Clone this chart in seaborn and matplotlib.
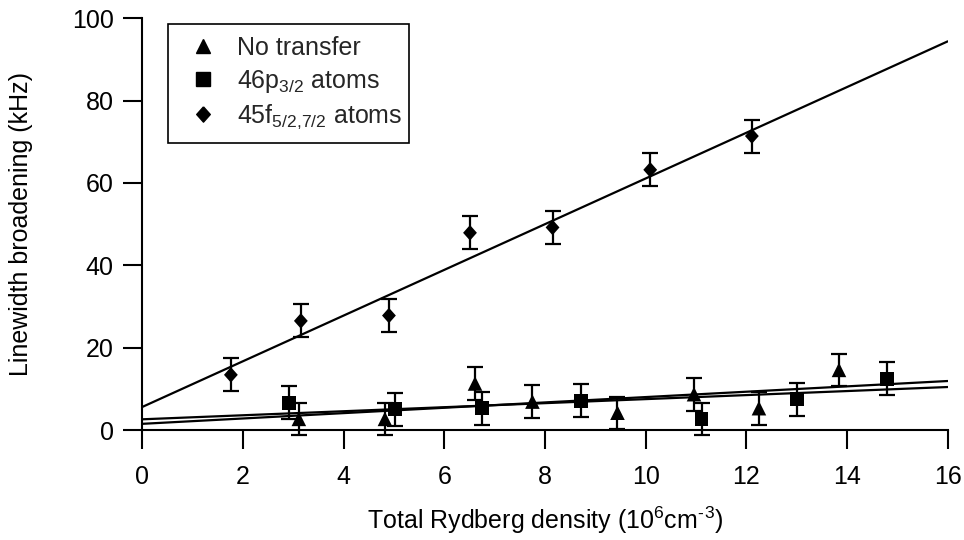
import numpy as np
import pandas as pd
import matplotlib
matplotlib.use("Agg")
import matplotlib.pyplot as plt
from matplotlib.lines import Line2D
from matplotlib.patches import Rectangle
import seaborn as sns

# ---- data ----
tri_x = [3.11, 4.82, 6.61, 7.75, 9.44, 10.96, 12.25, 13.84]
tri_y = [2.7, 2.7, 11.3, 6.9, 4.2, 8.7, 5.3, 14.6]
tri_err = [3.9, 3.9, 4.0, 4.0, 3.9, 4.0, 4.0, 3.9]

sq_x = [2.91, 5.02, 6.75, 8.71, 11.11, 13.01, 14.79]
sq_y = [6.6, 5.0, 5.3, 7.1, 2.6, 7.5, 12.4]
sq_err = [4.0, 4.0, 4.0, 4.0, 3.9, 4.0, 4.0]

dia_x = [1.76, 3.15, 4.90, 6.51, 8.15, 10.09, 12.11]
dia_y = [13.4, 26.5, 27.8, 47.9, 49.2, 63.2, 71.4]
dia_err = [4.0, 4.0, 4.0, 4.0, 4.0, 4.0, 4.0]

# linear fits (intercept, slope)
fit_tri = (1.5, 0.65)
fit_sq = (2.6, 0.49)
fit_dia = (5.6, 5.55)
fit_range = [0, 16]

labels = ["No transfer", "46p$_{3/2}$ atoms", "45f$_{5/2{,}7/2}$ atoms"]
x_ticks = [0, 2, 4, 6, 8, 10, 12, 14, 16]
y_ticks = [0, 20, 40, 60, 80, 100]

# ---- style ----
sns.set_theme(style="ticks")
plt.rcParams["font.family"] = ["Liberation Sans", "DejaVu Sans"]
plt.rcParams["mathtext.fontset"] = "custom"
plt.rcParams["mathtext.rm"] = "Liberation Sans"
plt.rcParams["mathtext.it"] = "Liberation Sans"
plt.rcParams["mathtext.default"] = "regular"

FS = 18
fig = plt.figure(figsize=(9.64, 5.4), dpi=100)
ax = fig.add_axes([0.1476, 0.2037, 0.8355, 0.7624])

diamond = [(0, 1), (0.89, 0), (0, -1), (-0.89, 0), (0, 1)]
series = [
    (tri_x, tri_y, tri_err, "^", 110, fit_tri),
    (sq_x, sq_y, sq_err, "s", 100, fit_sq),
    (dia_x, dia_y, dia_err, diamond, 125, fit_dia),
]

for xs, ys, es, mk, sz, fit in series:
    df = pd.DataFrame({"x": xs, "y": ys, "e": es})
    ax.errorbar(df["x"], df["y"], yerr=df["e"], fmt="none", ecolor="black",
                elinewidth=1.6, capsize=5.5, capthick=1.6, clip_on=False, zorder=2)
    sns.scatterplot(data=df, x="x", y="y", marker=mk, s=sz, color="black",
                    edgecolor="none", linewidth=0, ax=ax, zorder=3, clip_on=False,
                    legend=False)
    fx = np.array(fit_range, dtype=float)
    fdf = pd.DataFrame({"x": fx, "y": fit[0] + fit[1] * fx})
    sns.lineplot(data=fdf, x="x", y="y", color="black", linewidth=1.6, ax=ax,
                 zorder=2.5, legend=False)

ax.set_xlim(0, 16)
ax.set_ylim(0, 100)
ax.set_xticks(x_ticks)
ax.set_yticks(y_ticks)
ax.tick_params(axis="both", direction="out", length=13.5, width=1.5,
               color="black", labelsize=FS, labelcolor="black")
ax.tick_params(axis="x", pad=12)
ax.tick_params(axis="y", pad=7)
for s in ["top", "right"]:
    ax.spines[s].set_visible(False)
for s in ["left", "bottom"]:
    ax.spines[s].set_linewidth(1.5)
    ax.spines[s].set_color("black")

ax.set_xlabel("Total Rydberg density (10$^6$cm$^{\u2010}$$^3$)", fontsize=FS, color="black", labelpad=11)
ax.set_ylabel("Linewidth broadening (kHz)", fontsize=FS, color="black", labelpad=28)

handles = [
    Line2D([], [], marker="^", color="black", linestyle="none", markersize=10.5),
    Line2D([], [], marker="s", color="black", linestyle="none", markersize=9.5),
    Line2D([], [], marker=diamond, color="black", linestyle="none", markersize=11),
]
leg = ax.legend(handles, labels, loc="upper left", bbox_to_anchor=(0.0323, 0.9716),
                borderaxespad=0, frameon=False, fontsize=FS,
                handlelength=2.3, handletextpad=0.21, labelspacing=0.3,
                borderpad=0.25)
leg.set_zorder(5)

# frame around the legend, a little taller than the legend box itself
fig.canvas.draw()
r = fig.canvas.get_renderer()
e = leg.get_window_extent(r)
extra = 6.0  # pixels added above and below
inv = fig.transFigure.inverted()
(fx0, fy0) = inv.transform((e.x0, e.y0 - extra))
(fx1, fy1) = inv.transform((e.x1, e.y1 + extra))
frame = Rectangle((fx0, fy0), fx1 - fx0, fy1 - fy0, transform=fig.transFigure,
                  facecolor="white", edgecolor="black", linewidth=1.2, zorder=4)
ax.add_artist(frame)
frame.set_transform(fig.transFigure)

fig.savefig("out.png", dpi=100)
